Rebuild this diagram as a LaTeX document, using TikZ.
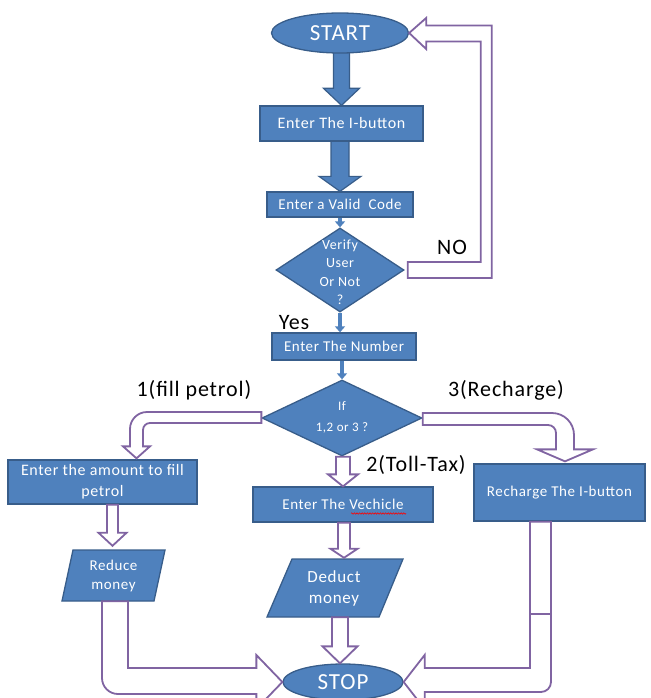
\documentclass[tikz,border=0pt]{standalone}
\usepackage{fontspec}
\setmainfont{Carlito}[LetterSpace=4]
\usetikzlibrary{shapes.geometric,calc,arrows.meta,decorations.pathmorphing}
\definecolor{boxblue}{HTML}{4F81BD}
\definecolor{boxedge}{HTML}{385D8A}
\definecolor{arrowpurple}{HTML}{8064A2}
\pgfdeclarelayer{background}
\pgfsetlayers{background,main}
\newcommand{\fsz}[2]{\fontsize{#1}{#2}\selectfont}
% #1 style, #2 top anchor, #3 tip coordinate, #4 shaft half width, #5 head half width, #6 head length
\newcommand{\blockdown}[6]{%
  \draw[#1] ($(#3 |- #2)+(-#4,0)$) -- ($(#3)+(-#4,-#6)$) -- ($(#3)+(-#5,-#6)$) -- (#3)
    -- ($(#3)+(#5,-#6)$) -- ($(#3)+(#4,-#6)$) -- ($(#3 |- #2)+(#4,0)$) -- cycle;}
\begin{document}
\begin{tikzpicture}[x=1pt,y=-1pt,
  box/.style={draw=boxedge, line width=1.3pt, fill=boxblue, text=white, inner sep=0pt, align=center},
  wtext/.style={text=white, inner sep=0pt, align=center},
  lbl/.style={text=black, inner sep=0pt, font=\fsz{22}{26}},
  bluearrow/.style={draw=boxedge, line width=1.2pt, fill=boxblue, line join=miter},
  hollow/.style={draw=arrowpurple, line width=1.8pt, fill=white, line join=miter},
  thinarrow/.style={draw=boxblue, line width=4pt, -{Triangle[width=10pt,length=6pt]}}
]
\useasboundingbox (0,0) rectangle (650,698);

% ---------- nodes ----------
\node[ellipse, box, minimum width=137pt, minimum height=40pt, font=\fsz{23}{27}] (start) at (340,33) {START};
\node[box, minimum width=163pt, minimum height=35pt, font=\fsz{16}{19}] (ibtn) at (341.5,123.5) {Enter The I-button};
\node[box, minimum width=146pt, minimum height=25pt, font=\fsz{15}{18}] (code) at (340,204.5) {Enter a Valid~~Code};
\node[diamond, box, minimum width=128pt, minimum height=84pt] (verify) at (340,270) {};
\node[wtext, font=\fsz{14}{18.5}] (verifytxt) at (340,272) {Verify\\User\\Or Not\\?};
\node[box, minimum width=144pt, minimum height=27pt, font=\fsz{15}{18}] (number) at (344,346.5) {Enter The Number};
\node[diamond, box, minimum width=160pt, minimum height=76pt] (ifd) at (342,418) {};
\node[wtext, font=\fsz{13}{21}] (iftxt) at (342,417) {If\\1,2 or 3 ?};
\node[box, minimum width=189pt, minimum height=44pt, font=\fsz{16}{21}] (amount) at (102.5,482) {Enter the amount to fill\\petrol};
\node[box, minimum width=180pt, minimum height=35pt, font=\fsz{15}{18}] (vech) at (343,504.5) {Enter The Vechicle};
\node[box, minimum width=171pt, minimum height=57pt, font=\fsz{15}{18}] (recharge) at (559.5,492.5) {Recharge The I-button};

% parallelograms
\node[inner sep=0pt, minimum width=92pt, minimum height=51pt] (reduce) at (113.5,575.5) {};
\draw[box] ($(reduce)+(-40.5,-25.5)$) -- ($(reduce)+(51.5,-25.5)$) -- ($(reduce)+(40.5,25.5)$) -- ($(reduce)+(-51.5,25.5)$) -- cycle;
\node[wtext, font=\fsz{15}{19}] (reducetxt) at (reduce) {Reduce\\money};
\node[inner sep=0pt, minimum width=112pt, minimum height=58pt] (deduct) at (335,588) {};
\draw[box] ($(deduct)+(-43,-29)$) -- ($(deduct)+(68,-29)$) -- ($(deduct)+(44,29)$) -- ($(deduct)+(-68,29)$) -- cycle;
\node[wtext, font=\fsz{17}{21}] (deducttxt) at ($(deduct)+(-1,0)$) {Deduct\\money};

\node[ellipse, box, minimum width=120pt, minimum height=36pt, font=\fsz{23}{27}] (stop) at (343,682) {STOP};

% ---------- labels ----------
\node[lbl] (yes) at (294,323) {Yes};
\node[lbl] (no) at (452,247) {NO};
\node[lbl] (l1) at (194,390) {1(fill petrol)};
\node[lbl] (l2) at (416,465) {2(Toll-Tax)};
\node[lbl] (l3) at (506,390) {3(Recharge)};

% spell-check squiggle
\draw[red, line width=0.6pt, decorate, decoration={snake, amplitude=0.7pt, segment length=2.6pt}]
  ($(vech)+(8,9)$) -- ($(vech)+(63,9)$);

% ---------- blue block arrows ----------
\begin{pgfonlayer}{background}
\coordinate (tipA) at (ibtn.north);
\blockdown{bluearrow}{start.center}{tipA}{8}{18}{17}
\coordinate (tipB) at (code.north);
\blockdown{bluearrow}{ibtn.center}{tipB}{9}{21}{15}
\end{pgfonlayer}

% ---------- thin arrows ----------
\draw[thinarrow] (code.south) -- (verify.north);
\draw[thinarrow] (verify.south) -- ($(number.north)+(-4,0)$);
\draw[thinarrow] ($(number.south)+(-2,0)$) -- (ifd.north);

% ---------- NO loop ----------
\coordinate (nox) at ($(verify.east)+(76,0)$);
\coordinate (noX) at ($(verify.east)+(87,0)$);
\draw[hollow] ($(verify.east)+(3,-8)$) -- ($(nox)+(0,-8)$) -- ($(nox |- start.east)+(0,8.5)$)
  -- ($(start.east)+(17,8.5)$) -- ($(start.east)+(17,16)$) -- (start.east)
  -- ($(start.east)+(17,-15)$) -- ($(start.east)+(17,-7.5)$) -- ($(noX |- start.east)+(0,-7.5)$)
  -- ($(noX)+(0,8)$) -- ($(verify.east)+(3,8)$) -- cycle;

% ---------- branch 1 (left curved) ----------
\coordinate (lt) at ($(amount.north)+(34,-1)$);
\draw[hollow] ($(ifd.west)+(0,-6)$) -- ($(lt |- ifd.west)+(10.5,-6)$)
  arc[start angle=270, end angle=180, radius=17]
  -- ($(lt)+(-6.5,-12)$) -- ($(lt)+(-13.5,-12)$) -- (lt) -- ($(lt)+(13.5,-12)$) -- ($(lt)+(6.5,-12)$)
  -- ($(lt |- ifd.west)+(6.5,12)$) arc[start angle=180, end angle=270, radius=7]
  -- ($(ifd.west)+(0,5)$) -- cycle;

% ---------- branch 3 (right curved) ----------
\coordinate (rt) at ($(recharge.north)+(5.5,-2)$);
\draw[hollow] ($(ifd.east)+(0,-5)$) -- ($(rt |- ifd.east)+(-13,-5)$)
  arc[start angle=270, end angle=360, radius=22]
  -- ($(rt)+(9,-12)$) -- ($(rt)+(28,-12)$) -- (rt) -- ($(rt)+(-28,-12)$) -- ($(rt)+(-9,-12)$)
  -- ($(rt |- ifd.east)+(-9,15)$) arc[start angle=0, end angle=-90, radius=8]
  -- ($(ifd.east)+(0,7)$) -- cycle;

% ---------- branch 2 and straight hollow arrows ----------
\coordinate (t2) at (vech.north);
\blockdown{hollow}{ifd.south}{t2}{7}{15}{12}
\coordinate (t1) at ($(reduce.north)+(-1,-4)$);
\blockdown{hollow}{amount.south}{t1}{5.5}{14}{13}
\coordinate (t3) at ($(deduct.north)+(9,-1)$);
\blockdown{hollow}{vech.south}{t3}{6}{13.5}{9}
\coordinate (t4) at ($(stop.north)+(-3,0)$);
\blockdown{hollow}{deduct.south}{t4}{8}{17.5}{17}

% ---------- into STOP from left ----------
\coordinate (rsL) at ($(reduce.south)+(-11.5,0)$);
\coordinate (rsR) at ($(reduce.south)+(14.5,0)$);
\draw[hollow] (rsR) -- ($(rsR |- stop.west)+(0,-14)$) -- ($(stop.west)+(-26,-14)$) -- ($(stop.west)+(-26,-27)$)
  -- (stop.west) -- ($(stop.west)+(-26,27)$) -- ($(stop.west)+(-26,12)$)
  -- ($(rsL |- stop.west)+(16,12)$) arc[start angle=90, end angle=180, radius=16]
  -- (rsL) -- cycle;

% ---------- into STOP from right ----------
\coordinate (rcL) at ($(recharge.south)+(-29.5,0)$);
\coordinate (rcR) at ($(recharge.south)+(-8.5,0)$);
\draw[hollow] (rcL) -- ($(rcL |- stop.east)+(0,-14)$) -- ($(stop.east)+(21,-14)$) -- ($(stop.east)+(21,-27)$)
  -- (stop.east) -- ($(stop.east)+(21,27)$) -- ($(stop.east)+(21,10)$)
  -- ($(rcR |- stop.east)+(-10,10)$) arc[start angle=90, end angle=0, radius=10]
  -- (rcR) -- cycle;
\draw[draw=arrowpurple, line width=1.8pt] ($(rcL)+(0,92)$) -- ($(rcR)+(0,92)$);
\end{tikzpicture}
\end{document}
